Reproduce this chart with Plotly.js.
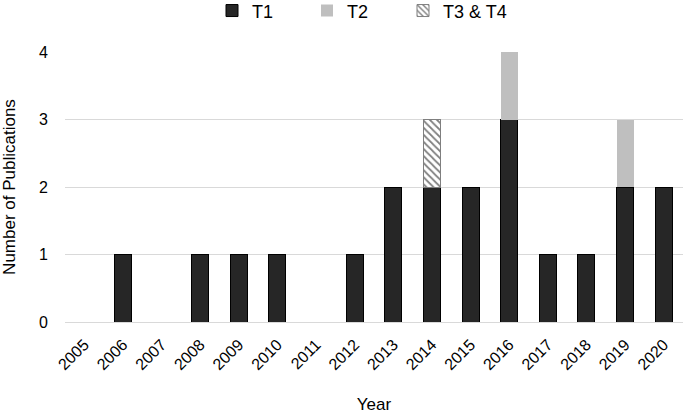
<!DOCTYPE html>
<html>
<head>
<meta charset="utf-8">
<script src="https://cdn.plot.ly/plotly-3.0.1.min.js"></script>
<style>
  html, body { margin: 0; padding: 0; background: #fff; }
  #chart { width: 685px; height: 417px; }
</style>
</head>
<body>
<div id="chart"></div>
<script>
// publications per year, stacked by type
const years = ['2005', '2006', '2007', '2008', '2009', '2010', '2011', '2012',
	'2013', '2014', '2015', '2016', '2017', '2018', '2019', '2020'];
const t1 = [0, 1, 0, 1, 1, 1, 0, 1, 2, 2, 2, 3, 1, 1, 2, 2];
const t2 = [0, 0, 0, 0, 0, 0, 0, 0, 0, 0, 0, 1, 0, 0, 1, 0];
const t34 = [0, 0, 0, 0, 0, 0, 0, 0, 0, 1, 0, 0, 0, 0, 0, 0];

const FONT = 'Liberation Sans, Arial, sans-serif';

// empty years get no bar at all (otherwise the outline draws a flat line)
function gaps(arr) {
	return arr.map(v => v === 0 ? null : v);
}

var data = [{
		name: 'T1',
		type: 'bar',
		x: years,
		y: gaps(t1),
		legend: 'legend',
		marker: { color: '#262626', line: { color: '#000000', width: 1 } }
	}, {
		name: 'T2',
		type: 'bar',
		x: years,
		y: gaps(t2),
		legend: 'legend2',
		marker: { color: '#bfbfbf', line: { width: 0 } }
	}, {
		name: 'T3 & T4',
		type: 'bar',
		x: years,
		y: gaps(t34),
		legend: 'legend3',
		marker: {
			color: '#ffffff',
			line: { color: '#7f7f7f', width: 1 },
			pattern: { shape: '\\', fgcolor: '#7f7f7f', bgcolor: '#ffffff', size: 5, solidity: 0.35 }
		}
	}
];

// one small legend per series so the three entries can be spaced like the original
function legendAt(xpx) {
	return {
		orientation: 'h',
		x: xpx / 685,
		xref: 'container',
		xanchor: 'left',
		y: 0.974,
		yref: 'container',
		yanchor: 'middle',
		bgcolor: 'rgba(0,0,0,0)',
		font: { family: FONT, size: 18, color: '#000000' }
	};
}

var layout = {
	width: 685,
	height: 417,
	barmode: 'stack',
	bargap: 0.56,
	margin: { l: 65, r: 2, t: 52, b: 95 },
	paper_bgcolor: '#ffffff',
	plot_bgcolor: '#ffffff',
	font: { family: FONT, size: 16, color: '#000000' },
	showlegend: true,
	legend: legendAt(212),
	legend2: legendAt(307),
	legend3: legendAt(403),
	xaxis: {
		type: 'category',
		categoryarray: years,
		tickangle: -45,
		showgrid: false,
		showline: true,
		linecolor: '#d9d9d9',
		ticks: '',
		ticklabelstandoff: 6,
		tickfont: { family: FONT, size: 16 },
		title: { text: 'Year', font: { family: FONT, size: 17 }, standoff: 25 }
	},
	yaxis: {
		range: [0, 4],
		dtick: 1,
		showgrid: true,
		gridcolor: '#d9d9d9',
		zeroline: false,
		ticks: '',
		ticklabelstandoff: 16,
		tickfont: { family: FONT, size: 16 },
		title: { text: 'Number of Publications', font: { family: FONT, size: 17 }, standoff: 20 }
	}
};

Plotly.newPlot('chart', data, layout, { displayModeBar: false, staticPlot: true });
</script>
</body>
</html>
